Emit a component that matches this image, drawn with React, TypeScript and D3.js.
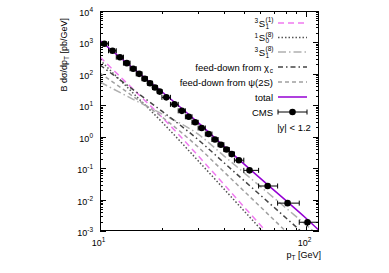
import React, { useEffect, useRef } from 'react';
import * as d3 from 'd3';

// theory curves (pT in GeV, B dsigma/dpT in pb/GeV)
const ptGrid = [10, 15, 20, 30, 40, 60, 80, 100, 120];
const singlet3S1 = [343, 26.1, 4.2, 0.248, 0.0305, 0.00157, 0.00019, 0.000038, 0.00001];
const octet1S0 = [275, 19.4, 2.94, 0.171, 0.0219, 0.0012, 0.00015, 0.000032, 0.0000085];
const octet3S1 = [55, 13.8, 5.3, 1.2, 0.247, 0.0265, 0.00546, 0.0016, 0.00059];
const feedChi = [191, 26.5, 6.5, 0.805, 0.15, 0.0141, 0.00264, 0.00072, 0.00025];
const feedPsi2S = [106, 16.3, 4.27, 0.467, 0.0766, 0.006, 0.00098, 0.00024, 0.000077];
const total = [1150, 125, 27, 2.8, 0.5, 0.048, 0.0094, 0.0026, 0.00085];

// CMS points
const cmsPt = [10.5, 11.5, 12.5, 13.5, 14.5, 15.5, 16.5, 17.5, 18.5, 19.5, 21, 23, 25, 27, 29, 31.2, 33.7, 36.2, 38.7, 41.2, 43.7, 47.3, 53.3, 65.3, 81.6, 102];
const cmsLo = [10, 11, 12, 13, 14, 15, 16, 17, 18, 19, 20, 22, 24, 26, 28, 30, 32.5, 35, 37.5, 40, 42.5, 45, 50, 59, 73, 93];
const cmsHi = [11, 12, 13, 14, 15, 16, 17, 18, 19, 20, 22, 24, 26, 28, 30, 32.5, 35, 37.5, 40, 42.5, 45, 50, 59, 73, 93, 120];
const cmsVal = [910, 543, 339, 219, 146, 100, 70, 50, 36.7, 27.3, 17.9, 10.7, 6.65, 4.3, 2.87, 1.89, 1.22, 0.815, 0.558, 0.391, 0.28, 0.179, 0.085, 0.027, 0.0077, 0.0019];
const cmsRelErr = [0.05, 0.05, 0.05, 0.05, 0.05, 0.05, 0.05, 0.05, 0.05, 0.05, 0.05, 0.05, 0.05, 0.06, 0.06, 0.06, 0.07, 0.07, 0.08, 0.08, 0.09, 0.1, 0.1, 0.12, 0.15, 0.25];

const yTicks = [1e-3, 1e-2, 1e-1, 1, 10, 100, 1000, 10000];
const yExp = ['-3', '-2', '-1', '0', '1', '2', '3', '4'];
const xTicks = [10, 100];
const xExp = ['1', '2'];

const FONT = '"Liberation Sans", Arial, Helvetica, sans-serif';

const App = () => {
  const svgRef = useRef<SVGSVGElement>(null);

  useEffect(() => {
    const svg = d3.select(svgRef.current);
    svg.selectAll('*').remove();

    const left = 100, right = 319, top = 11, bottom = 231;
    const x = d3.scaleLog().domain([10, 116]).range([left, right]);
    const y = d3.scaleLog().domain([1e-3, 1e4]).range([bottom, top]);

    svg.append('defs').append('clipPath').attr('id', 'plotclip')
      .append('rect').attr('x', left).attr('y', top).attr('width', right - left).attr('height', bottom - top);

    // ticks (inside, mirrored)
    const g = svg.append('g').attr('stroke', '#000').attr('stroke-width', 1);
    for (let e = -3; e < 4; e++) {
      for (let m = 2; m <= 9; m++) {
        const yy = Math.round(y(m * Math.pow(10, e))) + 0.5;
        g.append('line').attr('x1', left).attr('x2', left + 3).attr('y1', yy).attr('y2', yy);
        g.append('line').attr('x1', right).attr('x2', right - 3).attr('y1', yy).attr('y2', yy);
      }
    }
    yTicks.forEach((t, i) => {
      const yy = Math.round(y(t)) + 0.5;
      g.append('line').attr('x1', left).attr('x2', left + 6).attr('y1', yy).attr('y2', yy);
      g.append('line').attr('x1', right).attr('x2', right - 6).attr('y1', yy).attr('y2', yy);
      const tx = svg.append('text').attr('x', 93).attr('y', yy + 4).attr('text-anchor', 'end')
        .attr('font-family', FONT).attr('font-size', 9).attr('fill', '#000');
      tx.append('tspan').text('10');
      tx.append('tspan').attr('dy', -4).attr('font-size', 6.5).text(yExp[i]);
    });
    [20, 30, 40, 50, 60, 70, 80, 90].forEach(t => {
      const xx = Math.round(x(t)) + 0.5;
      g.append('line').attr('x1', xx).attr('x2', xx).attr('y1', bottom).attr('y2', bottom - 3);
      g.append('line').attr('x1', xx).attr('x2', xx).attr('y1', top).attr('y2', top + 3);
    });
    xTicks.forEach((t, i) => {
      const xx = Math.round(x(t)) + 0.5;
      g.append('line').attr('x1', xx).attr('x2', xx).attr('y1', bottom).attr('y2', bottom - 6);
      g.append('line').attr('x1', xx).attr('x2', xx).attr('y1', top).attr('y2', top + 6);
      const tx = svg.append('text').attr('x', xx - 2).attr('y', 246).attr('text-anchor', 'middle')
        .attr('font-family', FONT).attr('font-size', 9).attr('fill', '#000');
      tx.append('tspan').text('10');
      tx.append('tspan').attr('dy', -4).attr('font-size', 6.5).text(xExp[i]);
    });

    // axis labels
    const xl = svg.append('text').attr('x', 321).attr('y', 258).attr('text-anchor', 'end')
      .attr('font-family', FONT).attr('font-size', 9).attr('fill', '#000');
    xl.append('tspan').text('p');
    xl.append('tspan').attr('dy', 2).attr('font-size', 6.5).text('T');
    xl.append('tspan').attr('dy', -2).text(' [GeV]');

    const yl = svg.append('text').attr('transform', 'translate(67,18) rotate(-90)').attr('text-anchor', 'end')
      .attr('font-family', FONT).attr('font-size', 9).attr('fill', '#000');
    yl.append('tspan').text('B dσ/dp');
    yl.append('tspan').attr('dy', 2).attr('font-size', 6.5).text('T');
    yl.append('tspan').attr('dy', -2).text(' [pb/GeV]');

    // curves
    const line = d3.line<number>()
      .x((_, i) => x(ptGrid[i]))
      .y(d => y(d))
      .curve(d3.curveMonotoneX);

    const series = [
      { v: singlet3S1, color: '#f07af0', dash: '6,4', w: 1.5 },
      { v: octet1S0, color: '#555555', dash: '1.5,2', w: 1.5 },
      { v: octet3S1, color: '#b0b0b0', dash: '8,3,1.5,3', w: 1.5 },
      { v: feedChi, color: '#444444', dash: '5,3,1.5,3', w: 1.5 },
      { v: feedPsi2S, color: '#a0a0a0', dash: '4,3', w: 1.5 },
      { v: total, color: '#9400d3', dash: null, w: 1.5 },
    ];

    const plot = svg.append('g').attr('clip-path', 'url(#plotclip)');
    series.forEach(s => {
      plot.append('path').attr('d', line(s.v)).attr('fill', 'none')
        .attr('stroke', s.color).attr('stroke-width', s.w)
        .attr('stroke-dasharray', s.dash);
    });

    // CMS data
    const pts = plot.append('g').attr('stroke', '#000').attr('stroke-width', 1);
    cmsPt.forEach((p, i) => {
      const cx = x(p), cy = y(cmsVal[i]);
      const x0 = x(cmsLo[i]), x1 = x(cmsHi[i]);
      const y0 = y(cmsVal[i] * (1 - cmsRelErr[i])), y1 = y(cmsVal[i] * (1 + cmsRelErr[i]));
      pts.append('line').attr('x1', x0).attr('x2', x1).attr('y1', cy).attr('y2', cy);
      pts.append('line').attr('x1', x0).attr('x2', x0).attr('y1', cy - 2.5).attr('y2', cy + 2.5);
      pts.append('line').attr('x1', x1).attr('x2', x1).attr('y1', cy - 2.5).attr('y2', cy + 2.5);
      pts.append('line').attr('x1', cx).attr('x2', cx).attr('y1', y0).attr('y2', y1);
      pts.append('circle').attr('cx', cx).attr('cy', cy).attr('r', 3.3).attr('fill', '#000').attr('stroke', 'none');
    });

    // frame
    svg.append('rect').attr('x', left + 0.5).attr('y', top + 0.5).attr('width', right - left - 1).attr('height', bottom - top - 1)
      .attr('fill', 'none').attr('stroke', '#000').attr('stroke-width', 1);

    // legend
    const lx0 = 278, lx1 = 307, tx = 273;
    const txt = (xx: number, yy: number, size: number, s: string, anchor = 'end') =>
      svg.append('text').attr('x', xx).attr('y', yy).attr('text-anchor', anchor)
        .attr('font-family', FONT).attr('font-size', size).attr('fill', '#000').text(s);
    const rows = [23, 37.5, 52, 67, 82, 97, 112];
    // spectroscopic labels
    const spec = (yy: number, pre: string, sub: string, sup: string) => {
      txt(265, yy + 3.5, 9.5, 'S');
      txt(258, yy, 6.5, pre);
      txt(265.5, yy - 1, 6.5, sup, 'start');
      txt(265.5, yy + 5.5, 6.5, sub, 'start');
    };
    spec(rows[0], '3', '1', '(1)');
    spec(rows[1], '1', '0', '(8)');
    spec(rows[2], '3', '1', '(8)');
    const chi = txt(tx - 4, rows[3] + 3.5, 9.5, 'feed-down from χ');
    chi.attr('text-anchor', 'end');
    txt(tx, rows[3] + 5.5, 6.5, 'c');
    txt(tx, rows[4] + 3.5, 9.5, 'feed-down from ψ(2S)');
    txt(tx, rows[5] + 3.5, 9.5, 'total');
    txt(tx, rows[6] + 3.5, 9.5, 'CMS');
    txt(294, 131, 9.5, '|y| < 1.2', 'middle');

    series.forEach((s, i) => {
      svg.append('line').attr('x1', lx0).attr('x2', lx1).attr('y1', rows[i]).attr('y2', rows[i])
        .attr('stroke', s.color).attr('stroke-width', s.w).attr('stroke-dasharray', s.dash);
    });
    const leg = svg.append('g').attr('stroke', '#000').attr('stroke-width', 1);
    leg.append('line').attr('x1', lx0).attr('x2', lx1).attr('y1', rows[6]).attr('y2', rows[6]);
    leg.append('line').attr('x1', lx0).attr('x2', lx0).attr('y1', rows[6] - 2.5).attr('y2', rows[6] + 2.5);
    leg.append('line').attr('x1', lx1).attr('x2', lx1).attr('y1', rows[6] - 2.5).attr('y2', rows[6] + 2.5);
    leg.append('circle').attr('cx', (lx0 + lx1) / 2).attr('cy', rows[6]).attr('r', 3.3).attr('fill', '#000').attr('stroke', 'none');
  }, []);

  return (
    <svg ref={svgRef} width={389} height={273}
      style={{ position: 'absolute', left: 0, top: 0, background: '#fff' }} />
  );
};

export default App;
